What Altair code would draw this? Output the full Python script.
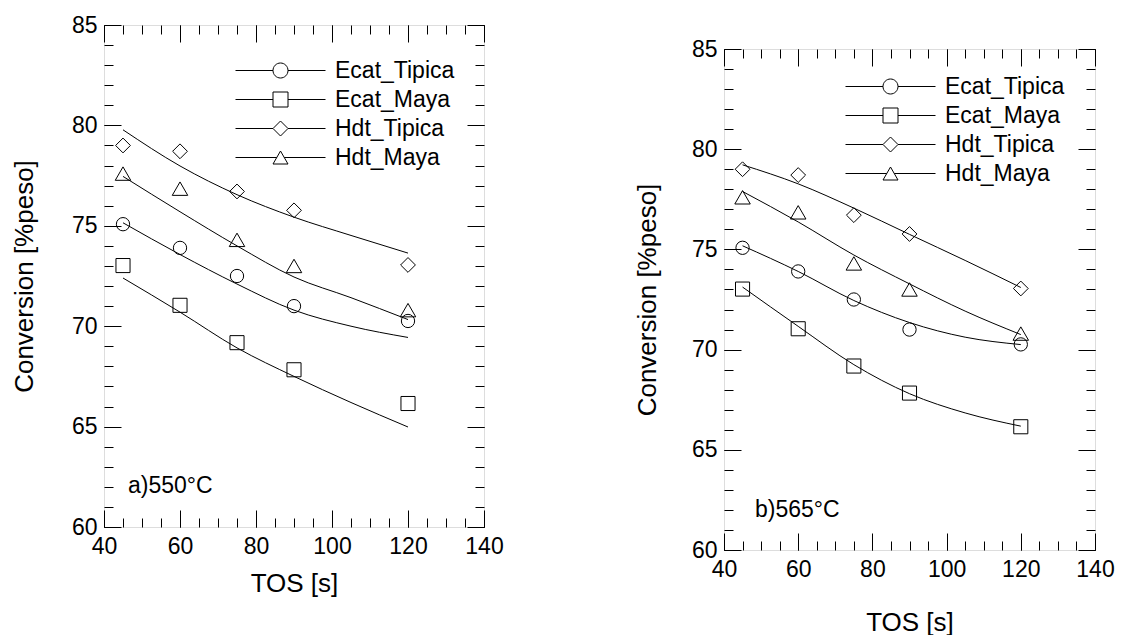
import altair as alt
import pandas as pd

FONT = "Liberation Sans"

# ---------------- data ----------------
series = ["Ecat_Tipica", "Ecat_Maya", "Hdt_Tipica", "Hdt_Maya"]

tos_exp = [45, 60, 75, 90, 120]
exp_ecat_tipica = [75.08, 73.90, 72.50, 71.00, 70.26]
exp_ecat_maya = [73.02, 71.04, 69.18, 67.83, 66.15]
exp_hdt_tipica = [79.00, 78.71, 76.71, 75.77, 73.05]
exp_hdt_maya = [77.60, 76.85, 74.30, 73.00, 70.80]

tos_fit = [45, 60, 75, 90, 105, 120]
fit_a_ecat_tipica = [75.15, 73.57, 72.10, 70.80, 70.00, 69.44]
fit_a_ecat_maya = [72.40, 70.70, 68.92, 67.50, 66.20, 64.98]
fit_a_hdt_tipica = [79.78, 77.98, 76.55, 75.43, 74.52, 73.64]
fit_a_hdt_maya = [77.46, 75.70, 74.00, 72.45, 71.42, 70.33]

fit_b_ecat_tipica = [75.18, 73.90, 72.45, 71.35, 70.62, 70.25]
fit_b_ecat_maya = [73.12, 71.16, 69.25, 67.80, 66.84, 66.18]
fit_b_hdt_tipica = [79.22, 78.27, 77.06, 75.75, 74.45, 73.10]
fit_b_hdt_maya = [77.89, 76.37, 74.72, 73.28, 71.92, 70.75]

x_major = [40, 60, 80, 100, 120, 140]
x_minor = list(range(40, 145, 5))
y_major = [60, 65, 70, 75, 80, 85]
y_minor = list(range(60, 86))

x_domain = [40, 140]
y_domain = [60, 85]

labels_a = "a)550°C"
labels_b = "b)565°C"

# ---------------- tables ----------------
def exp_table():
    rows = []
    for name, vals in zip(series, [exp_ecat_tipica, exp_ecat_maya, exp_hdt_tipica, exp_hdt_maya]):
        for t, v in zip(tos_exp, vals):
            rows.append({"tos": t, "conv": v, "series": name})
    return pd.DataFrame(rows)


def fit_table(fits):
    rows = []
    for name, vals in zip(series, fits):
        for t, v in zip(tos_fit, vals):
            rows.append({"tos": t, "conv": v, "series": name})
    return pd.DataFrame(rows)


point_shapes = ["circle", "square", "diamond", "triangle-up"]
point_sizes = [177, 240, 225, 240]

# legend symbols: line with marker (path units are pixels with symbolSize=4)
legend_paths = [
    "M-45,0L-7.5,0M7.5,0L45,0M-7.5,0A7.5,7.5,0,1,1,7.5,0A7.5,7.5,0,1,1,-7.5,0Z",
    "M-45,0L-7.5,0M7.5,0L45,0M-7.5,-7.5L7.5,-7.5L7.5,7.5L-7.5,7.5Z",
    "M-45,0L-7.5,0M7.5,0L45,0M-7.5,0L0,-7.5L7.5,0L0,7.5Z",
    "M-45,0L-3.75,0M3.75,0L45,0M0,-6.5L-7.5,6.5L7.5,6.5Z",
]


def axis(orient, values, tick, labels=False, title=None, title_pad=0, label_pad=0):
    kw = dict(orient=orient, values=values, tickSize=tick, offset=-tick, domain=False,
              grid=False, ticks=True, tickColor="black", tickWidth=1, labels=labels,
              title=title)
    if labels:
        kw.update(labelFont=FONT, labelFontSize=23, labelColor="black",
                  labelPadding=label_pad, labelFlush=False, labelOverlap=False)
    if title:
        kw.update(titleFont=FONT, titleFontSize=26, titleFontWeight="normal",
                  titleColor="black", titlePadding=title_pad)
    return alt.Axis(**kw)


def panel(fits, label, w, h, label_x, legend_x, legend_y, xt_pad, yt_pad):
    xs = alt.Scale(domain=x_domain, nice=False, zero=False)
    ys = alt.Scale(domain=y_domain, nice=False, zero=False)
    exp_df = exp_table()
    fit_df = fit_table(fits)

    lines = alt.Chart(fit_df).mark_line(color="black", strokeWidth=1, interpolate="monotone").encode(
        x=alt.X("tos:Q", scale=xs, axis=axis("bottom", x_major, 17, True, "TOS [s]", xt_pad, 8)),
        y=alt.Y("conv:Q", scale=ys, axis=axis("left", y_major, 17, True, "Conversion [%peso]", yt_pad, 7)),
        detail="series:N",
    )

    points = alt.Chart(exp_df).mark_point(filled=False, color="black", strokeWidth=1, opacity=1).encode(
        x=alt.X("tos:Q", scale=xs, axis=axis("bottom", x_minor, 9)),
        y=alt.Y("conv:Q", scale=ys, axis=axis("left", y_minor, 9)),
        shape=alt.Shape("series:N", scale=alt.Scale(domain=series, range=point_shapes), legend=None),
        size=alt.Size("series:N", scale=alt.Scale(domain=series, range=point_sizes), legend=None),
    )

    legend_layer = alt.Chart(exp_df).transform_filter("false").mark_point(
        filled=False, color="black", strokeWidth=1, opacity=1
    ).encode(
        x=alt.X("tos:Q", scale=xs, axis=axis("top", x_major, 17)),
        y=alt.Y("conv:Q", scale=ys, axis=axis("right", y_major, 17)),
        shape=alt.Shape(
            "series:N",
            scale=alt.Scale(domain=series, range=legend_paths),
            legend=alt.Legend(
                title=None, orient="none", legendX=legend_x, legendY=legend_y,
                labelFont=FONT, labelFontSize=23, labelColor="black", labelOffset=43,
                symbolSize=4, symbolStrokeWidth=1, symbolStrokeColor="black",
                symbolFillColor="transparent", rowPadding=5, padding=0,
            ),
        ),
    )

    mirror_minor = alt.Chart(exp_df).transform_filter("false").mark_point(opacity=0).encode(
        x=alt.X("tos:Q", scale=xs, axis=axis("top", x_minor, 9)),
        y=alt.Y("conv:Q", scale=ys, axis=axis("right", y_minor, 9)),
    )

    text = alt.Chart(pd.DataFrame({"t": [label]})).mark_text(
        align="left", baseline="alphabetic", font=FONT, fontSize=23, color="black"
    ).encode(text="t:N", x=alt.value(label_x), y=alt.value(467.5))

    return alt.layer(lines, points, legend_layer, mirror_minor, text).resolve_axis(
        x="independent", y="independent"
    ).resolve_scale(shape="independent", size="independent").properties(width=w, height=h)


left = panel([fit_a_ecat_tipica, fit_a_ecat_maya, fit_a_hdt_tipica, fit_a_hdt_maya],
             labels_a, 380, 502, 24, 165, 34, 12, 34)
right = panel([fit_b_ecat_tipica, fit_b_ecat_maya, fit_b_hdt_tipica, fit_b_hdt_maya],
              labels_b, 371, 501, 31, 155, 26, 28, 31)

# empty strip that pushes the right panel down
spacer = alt.Chart(pd.DataFrame({"s": [0]})).mark_point(opacity=0).properties(
    width=371, height=11, view=alt.ViewBackground(stroke="transparent")
)
right_col = alt.vconcat(spacer, right, spacing=0).resolve_scale(
    shape="independent", size="independent"
).resolve_legend(shape="independent")

chart = alt.hconcat(left, right_col, spacing=129).resolve_scale(
    shape="independent", size="independent"
).resolve_legend(shape="independent").properties(
    padding={"left": 2, "top": 5, "right": 5, "bottom": 5}
).configure_view(stroke="black", strokeWidth=1.5).configure(background="white")

chart.save("out.html", embed_options={"renderer": "svg", "actions": False})
